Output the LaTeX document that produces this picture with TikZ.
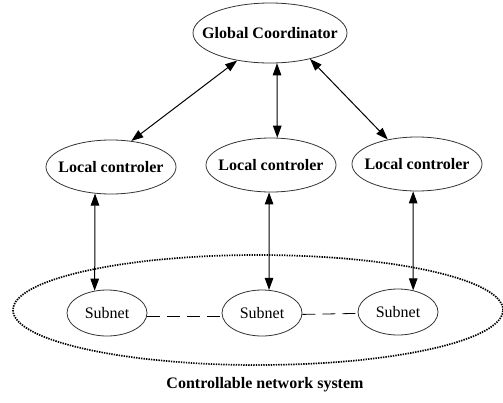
\documentclass[tikz,border=0pt]{standalone}
\usepackage{fontspec}
\setmainfont{Liberation Serif}
\usetikzlibrary{shapes.geometric,arrows.meta}

\tikzset{
  oval/.style={ellipse, draw=black!80, line width=0.8pt, inner sep=0pt},
  boldlabel/.style={font=\fontsize{16}{19}\selectfont\bfseries},
  plainlabel/.style={font=\fontsize{16}{19}\selectfont},
  coordnode/.style={oval, minimum width=154pt, minimum height=60pt,
                    label={[boldlabel]center:#1}},
  ctrlnode/.style={oval, minimum width=130pt, minimum height=54pt,
                   label={[boldlabel]center:#1}},
  subnode/.style={oval, minimum width=80pt, minimum height=46pt,
                  label={[plainlabel]center:#1}},
  link/.style={{Triangle[length=12pt,width=8.5pt]}-{Triangle[length=12pt,width=8.5pt]}, line width=1pt},
  peer/.style={line width=0.8pt, dash pattern=on 13pt off 7pt},
  region/.style={ellipse, draw, line width=1.7pt, dash pattern=on 1.4pt off 1.1pt,
                 minimum width=490pt, minimum height=110pt, inner sep=0pt}
}

\begin{document}
\begin{tikzpicture}[x=1pt, y=-1pt]
  \useasboundingbox (0,0) rectangle (503,402);

  % enclosing network region
  \node[region] (net) at (258,310) {};

  % coordinator and controllers
  \node[coordnode={Global Coordinator}] (gc) at (270,33) {};
  \node[ctrlnode={Local controler}] (lc1) at (111,167) {};
  \node[ctrlnode={Local controler}] (lc2) at (271,165) {};
  \node[ctrlnode={Local controler}] (lc3) at (417,164) {};

  % subnets
  \node[subnode={Subnet}] (sn1) at (107,313) {};
  \node[subnode={Subnet}] (sn2) at (262,313) {};
  \node[subnode={Subnet}] (sn3) at (398,312) {};

  % caption of the region
  \node[boldlabel] (cap) at (265,385) {Controllable network system};

  % coordinator <-> controllers
  \draw[link] (gc.-140) -- (lc1.52);
  \draw[link] (gc.-77) -- (lc2.77);
  \draw[link] (gc.-33) -- (lc3.140);

  % controllers <-> subnets
  \draw[link] (lc1.-121) -- (sn1.119);
  \draw[link] (lc2.-94) -- (sn2.73);
  \draw[link] (lc3.-98) -- (sn3.55);

  % subnet peer links
  \draw[peer] (sn1.-5) -- (sn2.185);
  \draw[peer] (sn2.-2) -- (sn3.182);
\end{tikzpicture}
\end{document}
